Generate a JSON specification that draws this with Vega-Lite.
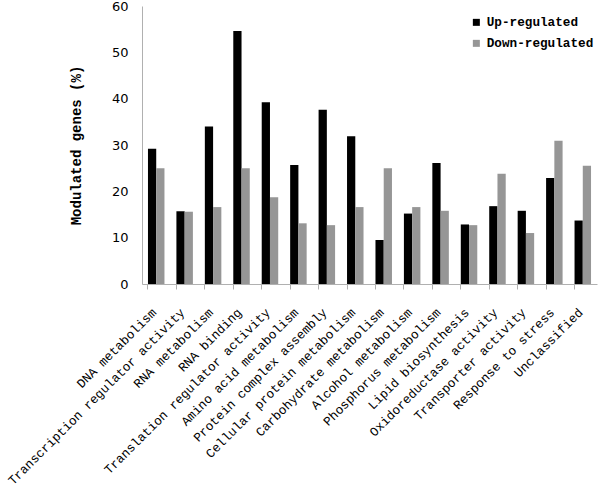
{
  "$schema": "https://vega.github.io/schema/vega-lite/v6.json",
  "width": 455,
  "height": 278,
  "autosize": {"type": "none"},
  "padding": {"left": 142, "top": 6, "right": 3, "bottom": 202},
  "background": "white",
  "data": {
    "values": [
      {"category": "DNA metabolism", "series": "Up-regulated", "value": 29.2},
      {"category": "DNA metabolism", "series": "Down-regulated", "value": 25.0},
      {"category": "Transcription regulator activity", "series": "Up-regulated", "value": 15.7},
      {"category": "Transcription regulator activity", "series": "Down-regulated", "value": 15.6},
      {"category": "RNA metabolism", "series": "Up-regulated", "value": 34.0},
      {"category": "RNA metabolism", "series": "Down-regulated", "value": 16.6},
      {"category": "RNA binding", "series": "Up-regulated", "value": 54.6},
      {"category": "RNA binding", "series": "Down-regulated", "value": 25.0},
      {"category": "Translation regulator activity", "series": "Up-regulated", "value": 39.2},
      {"category": "Translation regulator activity", "series": "Down-regulated", "value": 18.75},
      {"category": "Amino acid metabolism", "series": "Up-regulated", "value": 25.7},
      {"category": "Amino acid metabolism", "series": "Down-regulated", "value": 13.1},
      {"category": "Protein complex assembly", "series": "Up-regulated", "value": 37.6},
      {"category": "Protein complex assembly", "series": "Down-regulated", "value": 12.7},
      {"category": "Cellular protein metabolism", "series": "Up-regulated", "value": 31.9},
      {"category": "Cellular protein metabolism", "series": "Down-regulated", "value": 16.6},
      {"category": "Carbohydrate metabolism", "series": "Up-regulated", "value": 9.5},
      {"category": "Carbohydrate metabolism", "series": "Down-regulated", "value": 25.0},
      {"category": "Alcohol metabolism", "series": "Up-regulated", "value": 15.2},
      {"category": "Alcohol metabolism", "series": "Down-regulated", "value": 16.6},
      {"category": "Phosphorus metabolism", "series": "Up-regulated", "value": 26.1},
      {"category": "Phosphorus metabolism", "series": "Down-regulated", "value": 15.8},
      {"category": "Lipid biosynthesis", "series": "Up-regulated", "value": 12.85},
      {"category": "Lipid biosynthesis", "series": "Down-regulated", "value": 12.7},
      {"category": "Oxidoreductase activity", "series": "Up-regulated", "value": 16.8},
      {"category": "Oxidoreductase activity", "series": "Down-regulated", "value": 23.8},
      {"category": "Transporter activity", "series": "Up-regulated", "value": 15.8},
      {"category": "Transporter activity", "series": "Down-regulated", "value": 11.0},
      {"category": "Response to stress", "series": "Up-regulated", "value": 22.9},
      {"category": "Response to stress", "series": "Down-regulated", "value": 30.9},
      {"category": "Unclassified", "series": "Up-regulated", "value": 13.7},
      {"category": "Unclassified", "series": "Down-regulated", "value": 25.5}
    ]
  },
  "config": {"view": {"stroke": null}},
  "mark": {"type": "bar"},
  "encoding": {
    "x": {
      "field": "category",
      "type": "nominal",
      "sort": null,
      "scale": {"paddingInner": 0.42, "paddingOuter": 0.21},
      "axis": {
        "title": null,
        "bandPosition": 0,
        "labelOffset": -2,
        "labelAngle": -45,
        "labelAlign": "right",
        "labelBaseline": "middle",
        "labelFont": "Liberation Mono",
        "labelFontSize": 12.7,
        "labelColor": "#000000",
        "labelPadding": 21,
        "domainColor": "#b0b0b0",
        "tickColor": "#b0b0b0",
        "tickSize": 5,
        "labelOverlap": false,
        "labelLimit": 400
      }
    },
    "xOffset": {
      "field": "series",
      "type": "nominal",
      "sort": ["Up-regulated", "Down-regulated"],
      "scale": {"paddingInner": 0, "paddingOuter": 0}
    },
    "y": {
      "field": "value",
      "type": "quantitative",
      "scale": {"domain": [0, 60]},
      "axis": {
        "title": "Modulated genes (%)",
        "titleFont": "Liberation Mono",
        "titleFontWeight": "bold",
        "titleFontSize": 14,
        "titleColor": "#000000",
        "titlePadding": 28,
        "values": [0, 10, 20, 30, 40, 50, 60],
        "labelFont": "DejaVu Sans",
        "labelFontSize": 13,
        "labelColor": "#000000",
        "labelPadding": 14,
        "ticks": false,
        "grid": false,
        "domainColor": "#b0b0b0"
      }
    },
    "color": {
      "field": "series",
      "type": "nominal",
      "sort": ["Up-regulated", "Down-regulated"],
      "scale": {"domain": ["Up-regulated", "Down-regulated"], "range": ["#000000", "#969696"]},
      "legend": {
        "title": null,
        "orient": "none",
        "legendX": 328,
        "legendY": 10,
        "padding": 0,
        "symbolType": "square",
        "symbolSize": 49,
        "symbolStrokeWidth": 0,
        "labelFont": "Liberation Mono",
        "labelFontWeight": "bold",
        "labelFontSize": 12.7,
        "labelColor": "#000000",
        "rowPadding": 7,
        "labelOffset": 4
      }
    }
  }
}
